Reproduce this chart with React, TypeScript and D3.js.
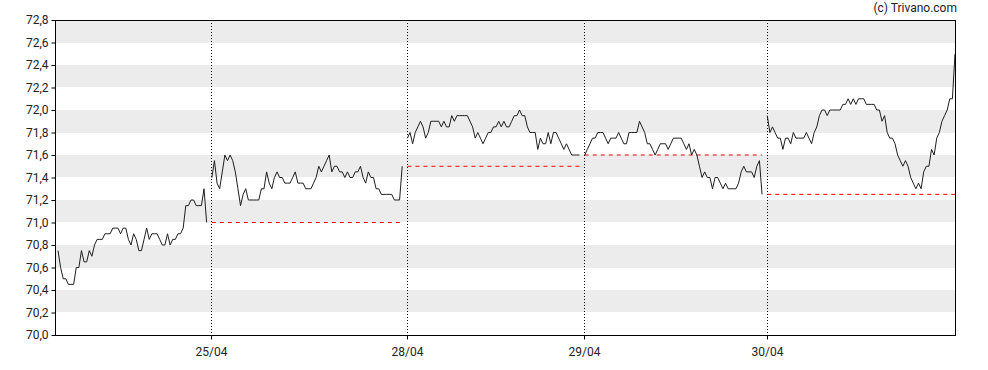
import { useEffect, useRef } from 'react';
import * as d3 from 'd3';

// one array per trading session (10-minute quotes)
const dayLabels = ['24/04', '25/04', '28/04', '29/04', '30/04'];

const day1 = [
  70.75, 70.6, 70.5, 70.5, 70.45, 70.45, 70.45, 70.6, 70.6, 70.75,
  70.65, 70.65, 70.75, 70.7, 70.8, 70.85, 70.85, 70.85, 70.9, 70.9,
  70.9, 70.95, 70.95, 70.95, 70.9, 70.95, 70.95, 70.85, 70.8, 70.9,
  70.85, 70.75, 70.75, 70.85, 70.95, 70.85, 70.9, 70.9, 70.9, 70.85,
  70.8, 70.8, 70.9, 70.8, 70.85, 70.85, 70.9, 70.9, 70.95, 71.15,
  71.15, 71.2, 71.2, 71.15, 71.15, 71.15, 71.3, 71.0,
];

const day2 = [
  71.4, 71.55, 71.35, 71.3, 71.45, 71.6, 71.55, 71.6, 71.55, 71.45,
  71.3, 71.15, 71.25, 71.3, 71.2, 71.2, 71.2, 71.2, 71.2, 71.3,
  71.3, 71.45, 71.35, 71.3, 71.4, 71.45, 71.4, 71.4, 71.35, 71.35,
  71.35, 71.4, 71.45, 71.35, 71.35, 71.35, 71.3, 71.3, 71.3, 71.35,
  71.4, 71.5, 71.45, 71.5, 71.55, 71.6, 71.45, 71.5, 71.5, 71.45,
  71.45, 71.4, 71.45, 71.4, 71.4, 71.45, 71.45, 71.5, 71.4, 71.35,
  71.45, 71.4, 71.4, 71.3, 71.3, 71.25, 71.25, 71.25, 71.25, 71.25,
  71.2, 71.2, 71.2, 71.5,
];

const day3 = [
  71.75, 71.8, 71.7, 71.8, 71.85, 71.9, 71.85, 71.75, 71.8, 71.9,
  71.9, 71.9, 71.9, 71.85, 71.9, 71.85, 71.85, 71.95, 71.9, 71.95,
  71.95, 71.95, 71.95, 71.95, 71.9, 71.85, 71.75, 71.8, 71.75, 71.7,
  71.75, 71.8, 71.8, 71.85, 71.85, 71.9, 71.85, 71.9, 71.85, 71.85,
  71.9, 71.95, 71.95, 72.0, 71.95, 71.95, 71.85, 71.8, 71.8, 71.8,
  71.65, 71.75, 71.7, 71.7, 71.8, 71.7, 71.8, 71.8, 71.75, 71.7,
  71.65, 71.7, 71.65, 71.6, 71.6, 71.6, 71.6,
];

const day4 = [
  71.6, 71.65, 71.7, 71.75, 71.75, 71.8, 71.8, 71.8, 71.75, 71.7,
  71.75, 71.75, 71.75, 71.8, 71.75, 71.7, 71.7, 71.8, 71.8, 71.8,
  71.8, 71.9, 71.85, 71.8, 71.7, 71.7, 71.65, 71.6, 71.65, 71.7,
  71.7, 71.7, 71.65, 71.7, 71.75, 71.75, 71.75, 71.75, 71.7, 71.65,
  71.7, 71.6, 71.65, 71.6, 71.5, 71.4, 71.45, 71.4, 71.4, 71.3,
  71.4, 71.4, 71.35, 71.3, 71.35, 71.3, 71.3, 71.3, 71.3, 71.35,
  71.45, 71.5, 71.45, 71.45, 71.45, 71.4, 71.5, 71.55, 71.25,
];

const day5 = [
  71.95, 71.8, 71.85, 71.8, 71.75, 71.75, 71.65, 71.75, 71.75, 71.7,
  71.8, 71.75, 71.75, 71.75, 71.75, 71.8, 71.75, 71.7, 71.8, 71.85,
  71.95, 72.0, 72.0, 71.95, 72.0, 72.0, 72.0, 72.0, 72.0, 72.05,
  72.05, 72.1, 72.05, 72.1, 72.05, 72.1, 72.1, 72.1, 72.05, 72.05,
  72.05, 72.05, 72.0, 72.0, 71.9, 71.95, 71.8, 71.75, 71.75, 71.7,
  71.6, 71.55, 71.5, 71.55, 71.5, 71.4, 71.35, 71.3, 71.35, 71.3,
  71.45, 71.5, 71.5, 71.65, 71.6, 71.75, 71.8, 71.9, 71.95, 72.0,
  72.1, 72.1, 72.5,
];

const sessions = [day1, day2, day3, day4, day5];

const yTicks = [70.0, 70.2, 70.4, 70.6, 70.8, 71.0, 71.2, 71.4, 71.6, 71.8, 72.0, 72.2, 72.4, 72.6, 72.8];

const credit = '(c) Trivano.com';

export default function App() {
  const ref = useRef<SVGSVGElement>(null);

  useEffect(() => {
    const el = ref.current;
    if (!el) return;
    const svg = d3.select(el);
    svg.selectAll('*').remove();

    const width = 988;
    const height = 370;
    const margin = { top: 20, right: 33, bottom: 35, left: 55 };
    const left = margin.left;
    const right = width - margin.right;
    const top = margin.top;
    const bottom = height - margin.bottom;
    const font = "Roboto, 'Liberation Sans', sans-serif";

    // sessions sit side by side on one index axis, one empty slot between them
    let idx = 0;
    const starts = sessions.map(s => { const st = idx; idx += s.length + 1; return st; });
    const lastIndex = starts[starts.length - 1] + sessions[sessions.length - 1].length - 1;

    const x = d3.scaleLinear().domain([0, lastIndex]).range([left + 3, right]);
    const y = d3.scaleLinear().domain([yTicks[0], yTicks[yTicks.length - 1]]).range([bottom, top]);

    // alternating grey bands
    const bands = yTicks.slice(0, -1).map((t, i) => ({ lo: t, hi: yTicks[i + 1], grey: i % 2 === 1 }));
    svg.append('g').selectAll('rect').data(bands.filter(b => b.grey)).enter().append('rect')
      .attr('x', left).attr('width', right - left)
      .attr('y', d => Math.round(y(d.hi))).attr('height', d => Math.round(y(d.lo)) - Math.round(y(d.hi)))
      .attr('fill', '#ececec').attr('shape-rendering', 'crispEdges');

    // dotted session separators
    svg.append('g').selectAll('line').data(starts.slice(1)).enter().append('line')
      .attr('x1', d => Math.floor(x(d)) + 0.5).attr('x2', d => Math.floor(x(d)) + 0.5)
      .attr('y1', top).attr('y2', bottom)
      .attr('stroke', '#000').attr('stroke-dasharray', '1,2');

    // previous close reference, dashed red
    const refs = sessions.slice(1).map((s, i) => ({
      from: starts[i + 1],
      to: starts[i + 1] + s.length - 1,
      level: sessions[i][sessions[i].length - 1],
    }));
    svg.append('g').selectAll('line').data(refs).enter().append('line')
      .attr('x1', d => x(d.from)).attr('x2', d => x(d.to))
      .attr('y1', d => y(d.level)).attr('y2', d => y(d.level))
      .attr('stroke', '#ff0000').attr('stroke-width', 1).attr('stroke-dasharray', '4,4');

    // price line per session
    const line = d3.line<number>().x((_, i) => 0).y(v => y(v));
    sessions.forEach((s, si) => {
      line.x((_, i) => x(starts[si] + i));
      svg.append('path').attr('d', line(s) || '')
        .attr('fill', 'none').attr('stroke', '#1e1e1e').attr('stroke-width', 1)
        .attr('stroke-linejoin', 'round');
    });

    // y axis
    const yAxis = svg.append('g').attr('transform', `translate(${left + 0.5},0)`)
      .call(d3.axisLeft(y).tickValues(yTicks).tickSize(4).tickPadding(3)
        .tickFormat(d => (+d).toFixed(1).replace('.', ',')));
    yAxis.select('.domain').remove();
    yAxis.selectAll('text').style('font-family', font).style('font-size', '12px').attr('fill', '#222');

    // x axis
    const xAxis = svg.append('g').attr('transform', `translate(0,${bottom + 0.5})`)
      .call(d3.axisBottom(x).tickValues(starts.slice(1)).tickSize(4).tickPadding(8)
        .tickFormat((_, i) => dayLabels[i + 1]));
    xAxis.select('.domain').remove();
    xAxis.selectAll('.tick').attr('transform', d => `translate(${Math.floor(x(d as number)) + 0.5},0)`);
    xAxis.selectAll('text').style('font-family', font).style('font-size', '12px').attr('fill', '#222');

    // frame
    svg.append('rect').attr('x', left + 0.5).attr('y', top + 0.5)
      .attr('width', right - left).attr('height', bottom - top)
      .attr('fill', 'none').attr('stroke', '#000').attr('stroke-width', 1);

    svg.append('text').attr('x', right + 2).attr('y', 12).attr('text-anchor', 'end')
      .style('font-family', font).style('font-size', '12px').attr('fill', '#222')
      .text(credit);
  }, []);

  return (
    <svg ref={ref} width={988} height={370}
      style={{ position: 'absolute', left: 0, top: 0, background: '#fff' }} />
  );
}
